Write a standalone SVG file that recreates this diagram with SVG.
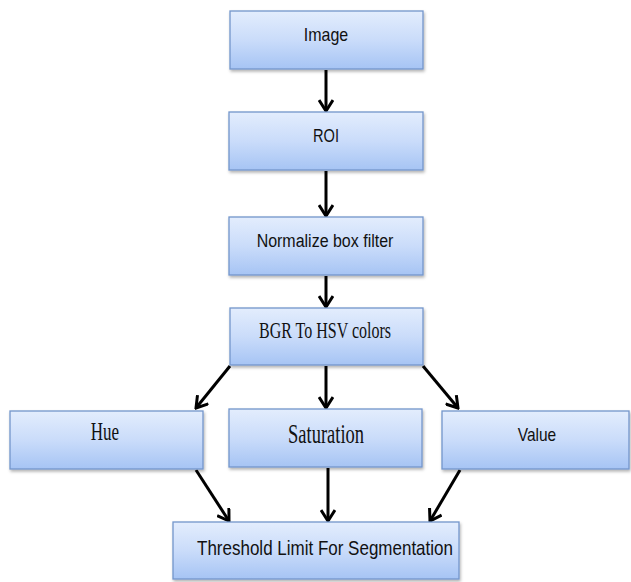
<svg xmlns="http://www.w3.org/2000/svg" width="631" height="582" viewBox="0 0 631 582">
<style>
.box{fill:url(#g);stroke:#7396cb;stroke-width:1.3;filter:url(#sh)}
.sans{font-family:"Liberation Sans","DejaVu Sans",sans-serif;fill:#111;text-anchor:middle}
.serif{font-family:"Liberation Serif","DejaVu Serif",serif;fill:#111;text-anchor:middle}
.c line{stroke:#000;stroke-width:3;marker-end:url(#ah)}
</style>
<defs>
<linearGradient id="g" x1="0" y1="0" x2="0" y2="1">
<stop offset="0" stop-color="#e3edfd"/>
<stop offset="0.5" stop-color="#cadcfa"/>
<stop offset="1" stop-color="#a6c4f4"/>
</linearGradient>
<filter id="sh" x="-5%" y="-10%" width="115%" height="130%">
<feDropShadow dx="1" dy="2" stdDeviation="1.5" flood-color="#000" flood-opacity="0.3"/>
</filter>
<marker id="ah" markerUnits="userSpaceOnUse" viewBox="0 0 14 16" markerWidth="14" markerHeight="16" refX="12" refY="8" orient="auto">
<path d="M1,1 L12,8 L1,15" fill="none" stroke="#000" stroke-width="3" stroke-linejoin="miter"/>
</marker>
</defs>
<g class="c" id="connectors">
<line x1="326" y1="70" x2="326" y2="111"/>
<line x1="326" y1="171" x2="326" y2="216"/>
<line x1="326" y1="276" x2="326" y2="307"/>
<line x1="230" y1="366" x2="196" y2="408"/>
<line x1="326" y1="366" x2="326" y2="408"/>
<line x1="423" y1="366" x2="458" y2="408"/>
<line x1="196" y1="470" x2="229" y2="521"/>
<line x1="328" y1="468" x2="328" y2="521"/>
<line x1="460" y1="470" x2="430" y2="521"/>
</g>
<g id="image"><rect class="box" x="230" y="11" width="193" height="58"/><text class="sans" transform="translate(326,41) scale(1,1.15)" font-size="16">Image</text></g>
<g id="roi"><rect class="box" x="229" y="112" width="194" height="58"/><text class="sans" transform="translate(326,142) scale(1,1.15)" font-size="16" textLength="26" lengthAdjust="spacingAndGlyphs">ROI</text></g>
<g id="normalize"><rect class="box" x="229" y="217" width="194" height="58"/><text class="sans" transform="translate(325,247) scale(1,1.1)" font-size="16">Normalize box filter</text></g>
<g id="bgr"><rect class="box" x="230" y="308" width="193" height="57"/><text class="serif" transform="translate(325,338) scale(1,1.4)" font-size="16">BGR To HSV colors</text></g>
<g id="hue"><rect class="box" x="10" y="411" width="193" height="58"/><text class="serif" transform="translate(105,440) scale(1,1.45)" font-size="17">Hue</text></g>
<g id="saturation"><rect class="box" x="229" y="409" width="193" height="58"/><text class="serif" transform="translate(326,443) scale(1,1.45)" font-size="18.5">Saturation</text></g>
<g id="value"><rect class="box" x="442" y="411" width="187" height="58"/><text class="sans" transform="translate(537,441) scale(1,1.17)" font-size="15.5">Value</text></g>
<g id="threshold"><rect class="box" x="173" y="522" width="286" height="57"/><text class="sans" transform="translate(325,555) scale(1,1.2)" font-size="17">Threshold Limit For Segmentation</text></g>
</svg>
